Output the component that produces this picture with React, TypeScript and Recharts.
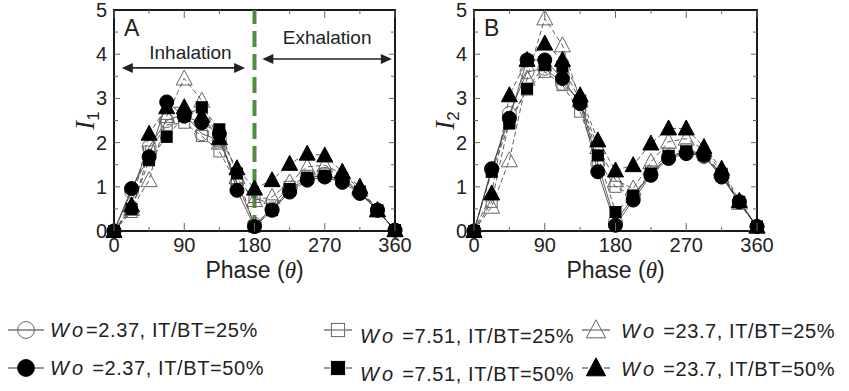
import React from 'react';
import { ComposedChart, Line, XAxis, YAxis, ReferenceArea, ReferenceLine } from 'recharts';

const phases = [0, 22.5, 45, 67.5, 90, 112.5, 135, 157.5, 180, 202.5, 225, 247.5, 270, 292.5, 315, 337.5, 360];
const phaseTicks = [0, 45, 90, 135, 180, 225, 270, 315, 360];
const valueTicks = [0, 0.5, 1, 1.5, 2, 2.5, 3, 3.5, 4, 4.5, 5];

// I1, left panel
const i1Wo237It25 = [0, 0.9, 1.9, 2.5, 2.65, 2.2, 2.05, 1.1, 0.15, 0.5, 0.92, 1.2, 1.28, 1.15, 0.88, 0.47, 0.02];
const i1Wo237It50 = [0, 0.96, 1.68, 2.92, 2.6, 2.45, 2.2, 0.92, 0.1, 0.47, 0.88, 1.15, 1.22, 1.1, 0.85, 0.47, 0.02];
const i1Wo751It25 = [0, 0.43, 1.8, 2.4, 2.45, 2.15, 1.8, 1.07, 0.77, 0.58, 1.0, 1.25, 1.3, 1.2, 0.9, 0.45, 0.02];
const i1Wo751It50 = [0, 0.5, 1.6, 2.13, 2.6, 2.8, 2.3, 1.3, 0.1, 0.47, 0.95, 1.2, 1.25, 1.15, 0.88, 0.47, 0.02];
const i1Wo23It25 = [0, 0.5, 1.15, 2.6, 3.45, 2.95, 2.0, 1.22, 0.7, 0.77, 1.1, 1.45, 1.49, 1.3, 0.95, 0.47, 0.02];
const i1Wo23It50 = [0, 0.58, 2.2, 2.8, 2.8, 2.6, 2.1, 1.42, 0.96, 1.15, 1.52, 1.75, 1.71, 1.34, 1.0, 0.47, 0.02];

// I2, right panel
const i2Wo237It25 = [0, 1.38, 2.66, 3.6, 3.68, 3.34, 2.95, 1.52, 0.2, 0.77, 1.3, 1.68, 1.78, 1.68, 1.25, 0.66, 0.1];
const i2Wo237It50 = [0, 1.41, 2.55, 3.87, 3.87, 3.45, 2.88, 1.34, 0.13, 0.7, 1.26, 1.64, 1.75, 1.71, 1.22, 0.66, 0.1];
const i2Wo751It25 = [0, 0.66, 2.5, 3.2, 3.6, 3.3, 2.7, 1.6, 1.0, 0.8, 1.35, 1.75, 1.85, 1.72, 1.3, 0.62, 0.1];
const i2Wo751It50 = [0, 1.34, 2.43, 3.22, 3.75, 3.72, 2.95, 1.71, 0.43, 0.8, 1.3, 1.7, 1.8, 1.72, 1.28, 0.66, 0.1];
const i2Wo23It25 = [0, 0.55, 1.6, 3.45, 4.81, 4.2, 2.95, 1.9, 1.15, 0.96, 1.56, 2.02, 2.09, 1.83, 1.35, 0.64, 0.1];
const i2Wo23It50 = [0, 0.85, 3.07, 3.87, 4.24, 3.87, 3.07, 2.05, 1.37, 1.49, 1.98, 2.32, 2.32, 1.9, 1.41, 0.68, 0.1];

const FONT = '"Liberation Sans", Arial, sans-serif';
const SERIF = '"Liberation Serif", "Times New Roman", serif';

type Shape = 'circle' | 'square' | 'triangle';
type SeriesStyle = { key: string; shape: Shape; filled: boolean; dashed: boolean };

// draw order: open markers underneath, filled on top
const SERIES: SeriesStyle[] = [
  { key: 'wo23_25', shape: 'triangle', filled: false, dashed: true },
  { key: 'wo751_25', shape: 'square', filled: false, dashed: true },
  { key: 'wo237_25', shape: 'circle', filled: false, dashed: false },
  { key: 'wo751_50', shape: 'square', filled: true, dashed: true },
  { key: 'wo23_50', shape: 'triangle', filled: true, dashed: true },
  { key: 'wo237_50', shape: 'circle', filled: true, dashed: false },
];

const buildRows = (cols: Record<string, number[]>) =>
  phases.map((phase, i) => {
    const row: Record<string, number> = { phase };
    Object.keys(cols).forEach((k) => (row[k] = cols[k][i]));
    return row;
  });

const dataI1 = buildRows({
  wo237_25: i1Wo237It25,
  wo237_50: i1Wo237It50,
  wo751_25: i1Wo751It25,
  wo751_50: i1Wo751It50,
  wo23_25: i1Wo23It25,
  wo23_50: i1Wo23It50,
});

const dataI2 = buildRows({
  wo237_25: i2Wo237It25,
  wo237_50: i2Wo237It50,
  wo751_25: i2Wo751It25,
  wo751_50: i2Wo751It50,
  wo23_25: i2Wo23It25,
  wo23_50: i2Wo23It50,
});

function Marker({ cx, cy, shape, filled, scale = 1 }: { cx: number; cy: number; shape: Shape; filled: boolean; scale?: number }) {
  const fill = filled ? '#000' : 'none';
  const stroke = filled ? '#000' : '#666';
  if (shape === 'circle') {
    return <circle cx={cx} cy={cy} r={7 * scale} fill={fill} stroke={stroke} strokeWidth={1} />;
  }
  if (shape === 'square') {
    const h = 5.5 * scale;
    return <rect x={cx - h} y={cy - h} width={2 * h} height={2 * h} fill={fill} stroke={stroke} strokeWidth={1} />;
  }
  const w = 8 * scale;
  return (
    <polygon
      points={`${cx},${cy - 8.5 * scale} ${cx + w},${cy + 6.5 * scale} ${cx - w},${cy + 6.5 * scale}`}
      fill={fill}
      stroke={stroke}
      strokeWidth={1}
    />
  );
}

const PLOT_TOP = 10;
const PLOT_BOTTOM = 231;

const XTick = (props: any) => {
  const { x, y, payload } = props;
  const v = payload.value;
  const major = v % 90 === 0;
  const len = major ? 8 : 4;
  return (
    <g>
      <line x1={x} y1={y} x2={x} y2={y - len} stroke="#666" strokeWidth={1} />
      <line x1={x} y1={PLOT_TOP} x2={x} y2={PLOT_TOP + len} stroke="#666" strokeWidth={1} />
      {major && (
        <text x={x} y={y + 21} textAnchor="middle" fontSize={20} fill="#222" fontFamily={FONT}>
          {v}
        </text>
      )}
    </g>
  );
};

const makeYTick = (right: number) => (props: any) => {
  const { x, y, payload } = props;
  const v = payload.value;
  const major = Number.isInteger(v);
  const len = major ? 6 : 4;
  return (
    <g>
      {v > 0 && v < 5 && <line x1={x} y1={y} x2={x + len} y2={y} stroke="#666" strokeWidth={1} />}
      {v > 0 && v < 5 && <line x1={right} y1={y} x2={right - len} y2={y} stroke="#666" strokeWidth={1} />}
      {major && (
        <text x={x - 7} y={y + 7} textAnchor="end" fontSize={20} fill="#222" fontFamily={FONT}>
          {v}
        </text>
      )}
    </g>
  );
};

const arrowShape = (text: string, dx: number, dy: number) => (p: any) => {
  const { x1, y1, x2 } = p;
  const y = y1;
  const a = 11;
  const w = 5;
  return (
    <g>
      <line x1={x1 + a - 1} y1={y} x2={x2 - a + 1} y2={y} stroke="#222" strokeWidth={1.6} />
      <polygon points={`${x1},${y} ${x1 + a},${y - w} ${x1 + a},${y + w}`} fill="#222" />
      <polygon points={`${x2},${y} ${x2 - a},${y - w} ${x2 - a},${y + w}`} fill="#222" />
      <text x={(x1 + x2) / 2 + dx} y={y + dy} textAnchor="middle" fontSize={19} fill="#222" fontFamily={FONT}>
        {text}
      </text>
    </g>
  );
};

type PanelProps = {
  data: Record<string, number>[];
  pageLeft: number;
  width: number;
  marginLeft: number;
  marginRight: number;
  tag: string;
  sub: string;
  phases?: boolean;
};

function Panel({ data, pageLeft, width, marginLeft, marginRight, tag, sub, phases: showPhases }: PanelProps) {
  const plotLeft = marginLeft + 40;
  const plotRight = width - marginRight;
  const YTick = makeYTick(plotRight);
  return (
    <div style={{ position: 'absolute', left: pageLeft, top: 0 }}>
      <ComposedChart
        width={width}
        height={290}
        data={data}
        margin={{ top: PLOT_TOP, left: marginLeft, right: marginRight, bottom: 29 }}
      >
        <XAxis
          dataKey="phase"
          type="number"
          domain={[0, 360]}
          ticks={phaseTicks}
          interval={0}
          height={30}
          tickSize={0}
          tickMargin={0}
          tickLine={false}
          axisLine={false}
          tick={XTick}
          label={{
            content: () => (
              <text x={(plotLeft + plotRight) / 2} y={278} textAnchor="middle" fontSize={23} fill="#222" fontFamily={FONT}>
                Phase (<tspan fontStyle="italic" fontFamily={SERIF}>θ</tspan>)
              </text>
            ),
          }}
        />
        <YAxis
          type="number"
          domain={[0, 5]}
          ticks={valueTicks}
          interval={0}
          width={40}
          tickSize={0}
          tickMargin={0}
          tickLine={false}
          axisLine={false}
          tick={YTick}
          label={{
            content: () => {
              const cx = plotLeft - 20;
              const cy = (PLOT_TOP + PLOT_BOTTOM) / 2;
              return (
                <text transform={`rotate(-90 ${cx} ${cy})`} x={cx} y={cy} textAnchor="middle" fill="#222">
                  <tspan fontFamily={SERIF} fontStyle="italic" fontSize={27}>I</tspan>
                  <tspan fontFamily={FONT} fontSize={17} dy={5}>{sub}</tspan>
                </text>
              );
            },
          }}
        />
        <ReferenceArea
          x1={0}
          x2={360}
          y1={0}
          y2={5}
          fill="none"
          stroke="#1a1a1a"
          strokeWidth={2}
          label={{ value: tag, position: 'insideTopLeft', offset: 10, fontSize: 23, fill: '#222', fontFamily: FONT }}
        />
        {showPhases && (
          <ReferenceLine x={180} stroke="#4d8f3c" strokeWidth={4} strokeDasharray="16 7" />
        )}
        {showPhases && (
          <ReferenceLine
            segment={[{ x: 10, y: 3.69 }, { x: 168, y: 3.69 }]}
            shape={arrowShape('Inhalation', 7, -9)}
          />
        )}
        {showPhases && (
          <ReferenceLine
            segment={[{ x: 190, y: 3.89 }, { x: 356, y: 3.89 }]}
            shape={arrowShape('Exhalation', 0, -15)}
          />
        )}
        {SERIES.map((s) => (
          <Line
            key={s.key}
            dataKey={s.key}
            type="linear"
            stroke="#333"
            strokeWidth={0.8}
            strokeDasharray={s.dashed ? '5 3' : undefined}
            isAnimationActive={false}
            activeDot={false}
            dot={(p: any) => (
              <Marker key={`${s.key}-${p.index}`} cx={p.cx} cy={p.cy} shape={s.shape} filled={s.filled} />
            )}
          />
        ))}
      </ComposedChart>
    </div>
  );
}

type LegendEntry = { shape: Shape; filled: boolean; text: string; spaced: boolean };

const legendRows: LegendEntry[][] = [
  [
    { shape: 'circle', filled: false, text: '=2.37, IT/BT=25%', spaced: false },
    { shape: 'square', filled: false, text: '=7.51, IT/BT=25%', spaced: true },
    { shape: 'triangle', filled: false, text: '=23.7, IT/BT=25%', spaced: true },
  ],
  [
    { shape: 'circle', filled: true, text: '=2.37, IT/BT=50%', spaced: true },
    { shape: 'square', filled: true, text: '=7.51, IT/BT=50%', spaced: true },
    { shape: 'triangle', filled: true, text: '=23.7, IT/BT=50%', spaced: true },
  ],
];

const LEGEND_COLS = [
  { icon: 26, text: 50, textDy: 0 },
  { icon: 338, text: 360, textDy: 6 },
  { icon: 596, text: 621, textDy: 1 },
];
const LEGEND_ROWS_Y = [330, 368];

function LegendIcon({ shape, filled }: { shape: Shape; filled: boolean }) {
  const solid = shape === 'circle';
  return (
    <svg width={40} height={24} style={{ display: 'block' }}>
      {solid ? (
        <line x1={2} y1={12} x2={38} y2={12} stroke="#333" strokeWidth={1} />
      ) : (
        <>
          <line x1={6} y1={12} x2={12} y2={12} stroke="#333" strokeWidth={1} />
          <line x1={28} y1={12} x2={34} y2={12} stroke="#333" strokeWidth={1} />
          {!filled && <line x1={12} y1={12} x2={28} y2={12} stroke="#555" strokeWidth={1} />}
        </>
      )}
      <Marker cx={20} cy={12} shape={shape} filled={filled} scale={1.2} />
    </svg>
  );
}

function Legend() {
  return (
    <>
      {legendRows.map((row, r) =>
        row.map((e, c) => {
          const col = LEGEND_COLS[c];
          const y = LEGEND_ROWS_Y[r];
          return (
            <React.Fragment key={`${r}-${c}`}>
              <div style={{ position: 'absolute', left: col.icon - 20, top: y - 12 }}>
                <LegendIcon shape={e.shape} filled={e.filled} />
              </div>
              <div
                style={{
                  position: 'absolute',
                  left: col.text,
                  top: y - 12 + col.textDy,
                  fontFamily: FONT,
                  fontSize: 20,
                  lineHeight: '24px',
                  color: '#222',
                  whiteSpace: 'nowrap',
                  letterSpacing: 0.6,
                }}
              >
                <span style={{ fontStyle: 'italic', letterSpacing: 3 }}>Wo</span>
                {e.spaced ? ' ' : ''}
                {e.text}
              </div>
            </React.Fragment>
          );
        })
      )}
    </>
  );
}

export default function App() {
  return (
    <div style={{ position: 'absolute', left: 0, top: 0, width: 849, height: 391, background: '#fff', overflow: 'hidden' }}>
      <Panel data={dataI1} pageLeft={0} width={420} marginLeft={74} marginRight={25} tag="A" sub="1" phases />
      <Panel data={dataI2} pageLeft={420} width={360} marginLeft={14} marginRight={23} tag="B" sub="2" />
      <Legend />
    </div>
  );
}
